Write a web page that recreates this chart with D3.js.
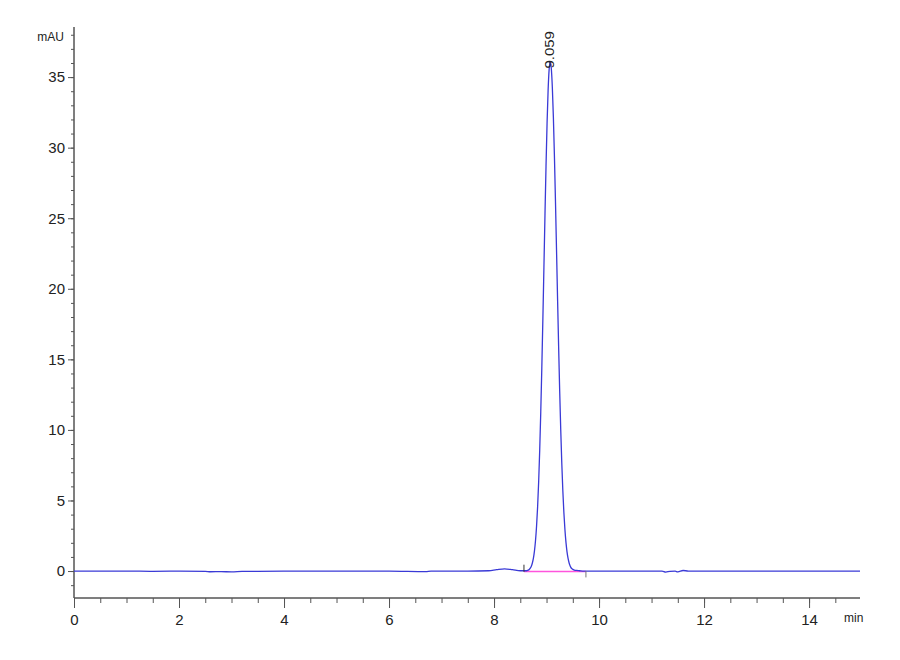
<!DOCTYPE html>
<html>
<head>
<meta charset="utf-8">
<script src="https://cdn.jsdelivr.net/npm/d3@7"></script>
<style>
  body { margin: 0; background: #fff; }
  text { fill: #222; }
</style>
</head>
<body>
<div id="vis"></div>
<script>
// chromatogram trace: [time (min), signal (mAU)]
const traceTimes = [
  0, 1, 1.5, 2, 2.5, 2.6, 2.8, 3.0, 3.2, 3.5, 4, 5, 6, 6.7, 6.8, 7.5, 7.9,
  8.05, 8.2, 8.35, 8.5,
  8.61, 8.63, 8.65, 8.67, 8.69, 8.71, 8.73, 8.75, 8.77, 8.79, 8.81, 8.83,
  8.85, 8.87, 8.89, 8.91, 8.93, 8.95, 8.97, 8.99, 9.01, 9.03, 9.05, 9.07,
  9.09, 9.11, 9.13, 9.15, 9.17, 9.19, 9.21, 9.23, 9.25, 9.27, 9.29, 9.31,
  9.33, 9.35, 9.37, 9.39, 9.41, 9.43, 9.45, 9.47, 9.49, 9.51, 9.53, 9.57,
  9.63, 9.71, 9.8, 10.5, 11.2, 11.27, 11.35, 11.45, 11.5, 11.6, 11.7, 12.5,
  14.97,
];
const traceValues = [
  0, 0, -0.02, -0.01, -0.02, -0.05, -0.04, -0.06, -0.03, -0.02, -0.01, 0, 0,
  -0.04, 0, 0, 0.02, 0.1, 0.16, 0.1, 0.02,
  0.02, 0.035, 0.064, 0.116, 0.2, 0.34, 0.57, 0.91, 1.43, 2.16, 3.19, 4.56,
  6.35, 8.58, 11.28, 14.4, 17.86, 21.52, 25.21, 28.69, 31.73, 34.08, 35.58,
  36.1, 35.64, 34.3, 32.17, 29.41, 26.21, 22.77, 19.28, 15.91, 12.8, 10.04,
  7.67, 5.71, 4.15, 2.94, 2.03, 1.36, 0.89, 0.57, 0.355, 0.216, 0.15, 0.1,
  0.07, 0.04, 0.02, 0, 0, 0, 0, -0.07, -0.02, -0.01, -0.06, 0.04, 0, 0, 0,
];

// integration baseline and its start / end markers
const baseTimes = [8.57, 9.75];
const baseValues = [0, 0];
const peakLabel = "9.059";
const peakTime = 9.07;
const peakTop = 36.1;

// axis ticks
const xLabelTicks = [0, 2, 4, 6, 8, 10, 12, 14];
const xMinorTicks = d3.range(0, 15, 0.5);
const yLabelTicks = [0, 5, 10, 15, 20, 25, 30, 35];
const yMinorTicks = d3.range(-1, 39, 1);

const W = 900;
const H = 660;
const axisLeft = 74;
const axisRight = 860;
const axisBottom = 598;
const axisTop = 27;
const narrow = "'Liberation Sans Narrow', 'Arial Narrow', 'Liberation Sans', Arial, sans-serif";

const svg = d3
  .select("#vis")
  .append("svg")
  .attr("width", W)
  .attr("height", H);

const x = d3.scaleLinear().domain([0, 14.97]).range([axisLeft, axisRight]);
const y = d3.scaleLinear().domain([-1.91, 38.55]).range([axisBottom, axisTop]);

// x axis
const gx = svg.append("g").attr("transform", `translate(0,${axisBottom})`);
gx.call(
  d3.axisBottom(x).tickValues(xMinorTicks).tickSize(5).tickFormat("").tickSizeOuter(0),
);
gx.append("g").call(
  d3.axisBottom(x).tickValues(xLabelTicks).tickSize(10).tickPadding(6).tickSizeOuter(0),
);
gx.selectAll("path.domain").attr("stroke", "#555").attr("d", `M${axisLeft},0H${axisRight}`);
gx.selectAll(".tick line").attr("stroke", "#555");
gx.selectAll(".tick text")
  .attr("font-family", narrow)
  .attr("font-size", 15)
  .attr("fill", "#222");

svg
  .append("text")
  .attr("x", 844)
  .attr("y", 622)
  .attr("font-family", narrow)
  .attr("font-size", 12)
  .text("min");

// y axis
const gy = svg.append("g").attr("transform", `translate(${axisLeft},0)`);
gy.call(
  d3.axisLeft(y).tickValues(yMinorTicks).tickSize(3).tickFormat("").tickSizeOuter(0),
);
gy.append("g").call(
  d3.axisLeft(y).tickValues(yLabelTicks).tickSize(6).tickPadding(3).tickSizeOuter(0),
);
gy.selectAll("path.domain").attr("stroke", "#555").attr("d", `M0,${axisTop}V${axisBottom}`);
gy.selectAll(".tick line").attr("stroke", "#555");
gy.selectAll(".tick text")
  .attr("font-family", narrow)
  .attr("font-size", 15)
  .attr("fill", "#222");

svg
  .append("text")
  .attr("x", 64)
  .attr("y", 41)
  .attr("text-anchor", "end")
  .attr("font-family", narrow)
  .attr("font-size", 12)
  .text("mAU");

// baseline (pink) under the trace
svg
  .append("line")
  .attr("x1", x(baseTimes[0]))
  .attr("x2", x(baseTimes[1]))
  .attr("y1", y(baseValues[0]) + 0.5)
  .attr("y2", y(baseValues[1]) + 0.5)
  .attr("stroke", "#ff55dd")
  .attr("stroke-width", 1.6);

// trace
const line = d3
  .line()
  .x((d) => x(d[0]))
  .y((d) => y(d[1]))
  .curve(d3.curveMonotoneX);

svg
  .append("path")
  .datum(traceTimes.map((t, i) => [t, traceValues[i]]))
  .attr("d", line)
  .attr("fill", "none")
  .attr("stroke", "#3a3ad6")
  .attr("stroke-width", 1.3);

// peak start / end markers
svg
  .append("line")
  .attr("x1", x(baseTimes[0]))
  .attr("x2", x(baseTimes[0]))
  .attr("y1", y(0.45))
  .attr("y2", y(-0.05))
  .attr("stroke", "#333");
svg
  .append("line")
  .attr("x1", x(baseTimes[1]))
  .attr("x2", x(baseTimes[1]))
  .attr("y1", y(0))
  .attr("y2", y(-0.45))
  .attr("stroke", "#777");

// retention time label
svg
  .append("text")
  .attr(
    "transform",
    `translate(${x(peakTime)},${y(peakTop) + 7}) scale(0.8,1) rotate(-90)`,
  )
  .attr("dy", "0.35em")
  .attr("font-family", "'Liberation Sans', Arial, sans-serif")
  .attr("font-size", 15)
  .text(peakLabel);
</script>
</body>
</html>
